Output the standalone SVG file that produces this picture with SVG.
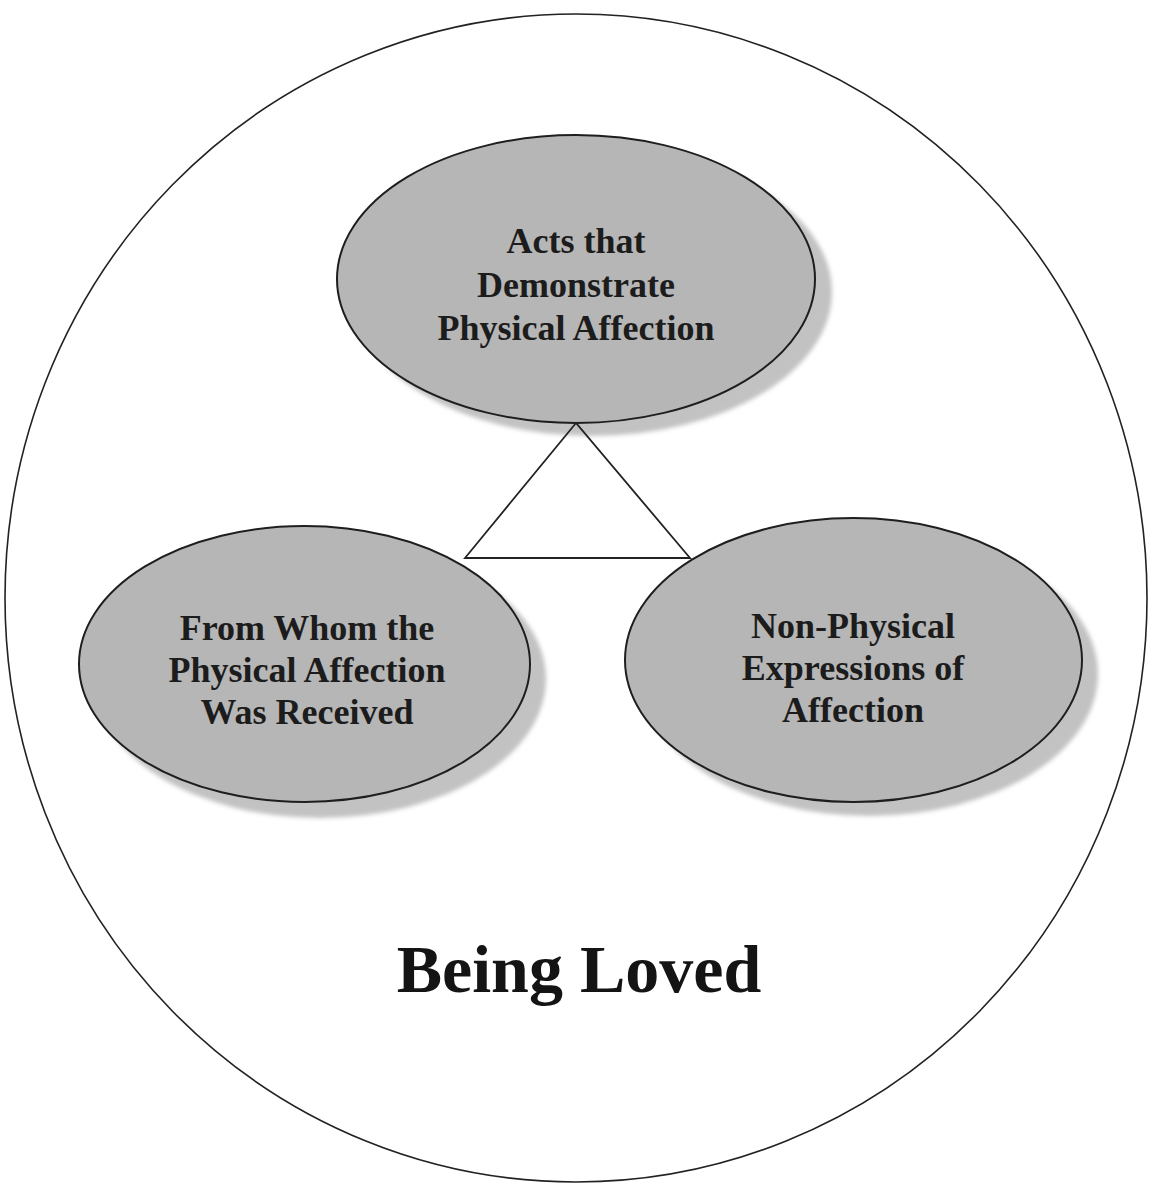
<svg xmlns="http://www.w3.org/2000/svg" width="1150" height="1184" viewBox="0 0 1150 1184">
<defs>
<filter id="blur" x="-10%" y="-10%" width="120%" height="120%"><feGaussianBlur stdDeviation="2"/></filter>
</defs>
<style>
.outer{fill:#ffffff;stroke:#222;stroke-width:1.6}
.shadow{fill:#c2c2c2;stroke:none;filter:url(#blur)}
.node{fill:#b6b6b6;stroke:#1e1e1e;stroke-width:2}
.lbl{font-family:"Liberation Serif","Times New Roman",serif;font-weight:bold;font-size:36px;fill:#1c1c1c;text-anchor:middle}
.title{font-family:"Liberation Serif","Times New Roman",serif;font-weight:bold;font-size:68px;fill:#141414;text-anchor:middle}
.conn{fill:none;stroke:#222;stroke-width:1.8}
</style>
<rect width="1150" height="1184" fill="#ffffff"/>
<g id="outer-circle">
<ellipse class="outer" cx="576" cy="598" rx="571" ry="584"/>
</g>
<g id="node-acts">
<ellipse class="shadow" cx="592" cy="292" rx="240" ry="144"/>
<ellipse class="node" cx="576" cy="279" rx="239" ry="144"/>
<text class="lbl" x="576" y="253">Acts that</text>
<text class="lbl" x="576" y="297">Demonstrate</text>
<text class="lbl" x="576" y="340">Physical Affection</text>
</g>
<g id="node-from-whom">
<ellipse class="shadow" cx="320" cy="679" rx="226" ry="139"/>
<ellipse class="node" cx="304.5" cy="664" rx="225.5" ry="138"/>
<text class="lbl" x="307" y="640">From Whom the</text>
<text class="lbl" x="307" y="682">Physical Affection</text>
<text class="lbl" x="307" y="724">Was Received</text>
</g>
<g id="node-non-physical">
<ellipse class="shadow" cx="869" cy="674" rx="229" ry="142"/>
<ellipse class="node" cx="853.5" cy="660" rx="228.5" ry="142"/>
<text class="lbl" x="853" y="638">Non-Physical</text>
<text class="lbl" x="853" y="680">Expressions of</text>
<text class="lbl" x="853" y="722">Affection</text>
</g>
<g id="connectors">
<polygon class="conn" points="576,423 465,558 690,558"/>
</g>
<g id="title">
<text class="title" x="579" y="992">Being Loved</text>
</g>
</svg>
